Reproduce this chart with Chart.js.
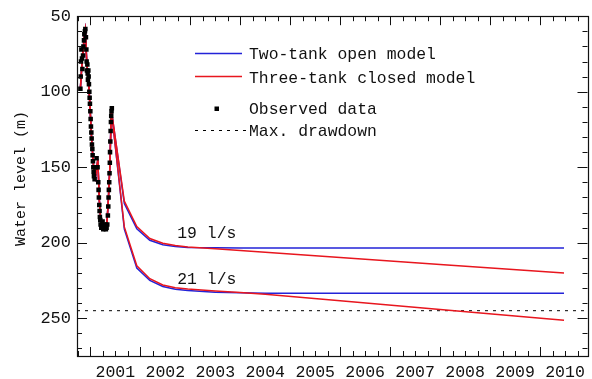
<!DOCTYPE html>
<html><head><meta charset="utf-8">
<script src="https://cdn.jsdelivr.net/npm/chart.js@4/dist/chart.umd.min.js"></script>
<style>html,body{margin:0;padding:0;background:#fff}</style>
</head><body>
<canvas id="c" width="592" height="379"></canvas>
<script>
// ---------- data ----------
const obsTime = [2000.801,2000.807,2000.813,2000.821,2000.833,2000.841,2000.853,2000.861,2000.873,2000.880,
  2000.892,2000.900,2000.912,2000.920,2000.926,2000.932,2000.940,2000.946,2000.952,2000.960,
  2000.966,2000.972,2000.980,2000.986,2000.992,2001.000,2001.006,2001.012,2001.020,2001.026,
  2001.032,2001.040,2001.046,2001.052,2001.060,2001.066,2001.072,2001.086,2001.106,2001.125,
  2001.145,2001.159,2001.165,2001.171,2001.179,2001.185,2001.191,2001.199,2001.205,2001.219,
  2001.231,2001.245,2001.259,2001.271,2001.285,2001.299,2001.311,2001.325,2001.339,2001.351,
  2001.359,2001.365,2001.371,2001.378,2001.384,2001.390,2001.394,2001.400,2001.406,2001.412,
  2001.418,2001.424,2001.430];
const obsLevel = [98,90,80,72,78,85,76,70,66,62,
  60,58.5,64,72,80,86,82,88,92,86,
  90,95,100,104,108,113,118,123,127,131,
  135,138,142,146,150,153,156,158,150,144,
  150,160,165,170,175,179,183,185,188,190,
  189,186,191,189,190.5,188,191,190,188,182,
  176,170,165,160,154,147,140,133,126,120,
  116,113,111];
const calTime  = [2000.80,2000.84,2000.88,2000.90,2000.93,2000.96,2000.99,2001.03,2001.07,2001.10,2001.15,2001.18,2001.21,2001.25,2001.29,2001.33,2001.36,2001.39];
const calLevel = [98,78,63,59,82,90,108,134,152,157,145,172,186,189,190,188,172,150];
const predTime    = [2001.42,2001.68,2001.93,2002.19,2002.45,2002.70,2002.95,2003.5,2004.0,2004.5,2006,2008,2010.48];
const twoTank19   = [112,174,190.7,198.4,201.3,202.5,203.2,203.4,203.5,203.5,203.5,203.5,203.5];
const threeTank19 = [112,172.5,189.3,197.2,200.3,201.8,202.8,204.0,205.2,206.3,209.8,214.4,220.1];
const twoTank21   = [112,191,216.8,224.9,229,230.8,231.6,232.8,233.2,233.4,233.5,233.5,233.5];
const threeTank21 = [112,189.5,215.3,223.8,228,229.8,230.6,231.9,232.9,234.1,238.45,244.2,251.4];
const maxDrawdown = 245;
const xRange = [2000.733, 2010.95];
const yRange = [50, 275];
const xTickYears = [2001,2002,2003,2004,2005,2006,2007,2008,2009,2010];
const yTickLabels = [50,100,150,200,250];
const seriesNames = ['Two-tank open model','Three-tank closed model','Observed data','Max. drawdown'];
const yTitle = 'Water level (m)';
const rateLabels = ['19 l/s','21 l/s'];
const rateLabelAt = [[2002.74,197.1],[2002.74,227.6]];

// ---------- styling ----------
const BLUE = '#2323d8', RED = '#e8161e', INK = '#111';
const FONT = 'Liberation Mono';

const pts = (t, v) => t.map((x, i) => ({x, y: v[i]}));
const model = (vals) => pts(calTime, calLevel).concat(pts(predTime, vals));

const frame = {
  id: 'frame',
  afterDatasetsDraw(chart) {
    const {ctx, chartArea: a, scales: {x, y}} = chart;
    ctx.save();
    ctx.strokeStyle = INK; ctx.lineWidth = 1.2;
    ctx.strokeRect(Math.round(a.left)+0.5, Math.round(a.top)+0.5, Math.round(a.right-a.left), Math.round(a.bottom-a.top));
    ctx.lineWidth = 1;
    ctx.beginPath();
    for (let k = Math.ceil(xRange[0]*4); k <= Math.floor(xRange[1]*4); k++) {
      const v = k/4, px = Math.round(x.getPixelForValue(v)) + 0.5;
      const len = (k % 4 === 0) ? 9 : 5;
      ctx.moveTo(px, a.bottom); ctx.lineTo(px, a.bottom - len);
      ctx.moveTo(px, a.top); ctx.lineTo(px, a.top + len);
    }
    for (let v = yRange[0] + 10; v < yRange[1]; v += 10) {
      const py = Math.round(y.getPixelForValue(v)) + 0.5;
      const len = (v % 50 === 0) ? 10 : 5;
      ctx.moveTo(a.left, py); ctx.lineTo(a.left + len, py);
      ctx.moveTo(a.right, py); ctx.lineTo(a.right - len, py);
    }
    ctx.stroke();

    // y axis title
    ctx.fillStyle = INK;
    ctx.save();
    ctx.translate(21, 178.5); ctx.rotate(-Math.PI/2);
    ctx.font = '15px "' + FONT + '"';
    ctx.textAlign = 'center'; ctx.textBaseline = 'middle';
    ctx.fillText(yTitle, 0, 0);
    ctx.restore();

    // rate labels
    ctx.font = '16.4px "' + FONT + '"';
    ctx.textAlign = 'left'; ctx.textBaseline = 'alphabetic';
    rateLabels.forEach((s, i) => {
      ctx.fillText(s, x.getPixelForValue(rateLabelAt[i][0]), y.getPixelForValue(rateLabelAt[i][1]));
    });

    // legend
    const lx0 = 195, lx1 = 242, tx = 249;
    ctx.lineWidth = 1.5;
    ctx.strokeStyle = BLUE; ctx.beginPath(); ctx.moveTo(lx0, 53.5); ctx.lineTo(lx1, 53.5); ctx.stroke();
    ctx.strokeStyle = RED; ctx.beginPath(); ctx.moveTo(lx0, 76.5); ctx.lineTo(lx1, 76.5); ctx.stroke();
    ctx.fillStyle = '#000'; ctx.fillRect(214.5, 106.5, 4.5, 4.5);
    ctx.strokeStyle = '#000'; ctx.lineWidth = 1; ctx.setLineDash([3,5]);
    ctx.beginPath(); ctx.moveTo(lx0, 130.5); ctx.lineTo(247, 130.5); ctx.stroke();
    ctx.setLineDash([]);
    ctx.fillStyle = INK;
    ctx.font = '16.4px "' + FONT + '"';
    ctx.fillText(seriesNames[0], tx, 59);
    ctx.fillText(seriesNames[1], tx, 83);
    ctx.fillText(seriesNames[2], tx, 114);
    ctx.fillText(seriesNames[3], tx, 136);
    ctx.restore();
  }
};

new Chart(document.getElementById('c'), {
  type: 'scatter',
  data: { datasets: [
    {label: seriesNames[2], data: pts(obsTime, obsLevel), showLine: false, pointStyle: 'rect',
     pointRadius: 3.2, backgroundColor: '#000', borderColor: '#000', borderWidth: 0},
    {label: seriesNames[1] + ' 19', data: model(threeTank19), showLine: true, borderColor: RED, borderWidth: 1.5, pointRadius: 0},
    {label: seriesNames[1] + ' 21', data: model(threeTank21), showLine: true, borderColor: RED, borderWidth: 1.5, pointRadius: 0},
    {label: seriesNames[0] + ' 19', data: model(twoTank19), showLine: true, borderColor: BLUE, borderWidth: 1.5, pointRadius: 0},
    {label: seriesNames[0] + ' 21', data: model(twoTank21), showLine: true, borderColor: BLUE, borderWidth: 1.5, pointRadius: 0},
    {label: seriesNames[3], data: [{x: xRange[0], y: maxDrawdown}, {x: xRange[1], y: maxDrawdown}], showLine: true,
     borderColor: '#000', borderWidth: 1, borderDash: [3,5], pointRadius: 0}
  ]},
  options: {
    responsive: false, animation: false, devicePixelRatio: 1,
    layout: {padding: {top: 16, right: 2, left: 0, bottom: 0}},
    plugins: {legend: {display: false}, tooltip: {enabled: false}},
    scales: {
      x: {type: 'linear', min: xRange[0], max: xRange[1],
          grid: {display: false, drawTicks: false}, border: {display: false},
          afterBuildTicks: s => { s.ticks = xTickYears.map(v => ({value: v + 0.5})); },
          ticks: {padding: 7, autoSkip: false, maxRotation: 0, color: INK,
                  font: {family: FONT, size: 16.5}, callback: v => String(Math.floor(v))},
          afterFit: s => { s.height = 23; }},
      y: {type: 'linear', reverse: true, min: yRange[0], max: yRange[1],
          grid: {display: false, drawTicks: false}, border: {display: false},
          afterBuildTicks: s => { s.ticks = yTickLabels.map(v => ({value: v})); },
          ticks: {padding: 6, color: INK, font: {family: FONT, size: 17}},
          afterFit: s => { s.width = 77; }}
    }
  },
  plugins: [frame]
});
</script>
</body></html>
